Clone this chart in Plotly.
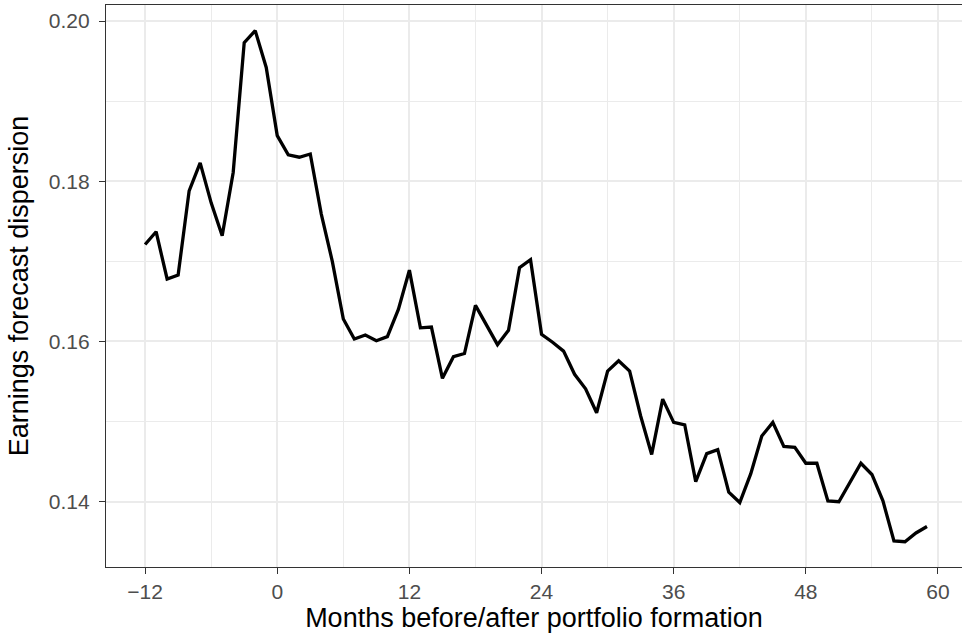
import plotly.graph_objects as go

months = list(range(-12, 60))
dispersion = [
    0.1721, 0.1737, 0.1678, 0.1683, 0.1788, 0.1823, 0.1773, 0.1732, 0.1811, 0.1973,
    0.1988, 0.1942, 0.1857, 0.1833, 0.1830, 0.1834, 0.1759, 0.1700, 0.1628, 0.1603,
    0.1608, 0.1601, 0.1606, 0.1640, 0.1689, 0.1617, 0.1618, 0.1554, 0.1581, 0.1585,
    0.1645, 0.1621, 0.1596, 0.1614, 0.1692, 0.1702, 0.1609, 0.1599, 0.1588, 0.1559,
    0.1541, 0.1511, 0.1563, 0.1576, 0.1563, 0.1507, 0.1459, 0.1528, 0.1499, 0.1496,
    0.1425, 0.1460, 0.1465, 0.1412, 0.1399, 0.1435, 0.1482, 0.1499, 0.1469, 0.1468,
    0.1448, 0.1448, 0.1401, 0.1400, 0.1424, 0.1448, 0.1434, 0.1401, 0.1351, 0.1350,
    0.1361, 0.1369,
]
x_ticks = [-12, 0, 12, 24, 36, 48, 60]
x_ticktext = ["\u221212", "0", "12", "24", "36", "48", "60"]
y_ticks = [0.14, 0.16, 0.18, 0.20]
y_ticktext = ["0.14", "0.16", "0.18", "0.20"]

fig = go.Figure()
fig.add_trace(go.Scatter(x=months, y=dispersion, mode="lines",
                         line=dict(color="black", width=3.3), hoverinfo="skip"))

font_family = "Liberation Sans, Arial, Helvetica, sans-serif"
grid = "#EBEBEB"
fig.update_layout(
    width=962, height=636,
    margin=dict(l=106, r=0, t=5, b=69),
    plot_bgcolor="white", paper_bgcolor="white",
    showlegend=False,
    font=dict(family=font_family, color="black"),
)
fig.update_xaxes(
    range=[-15.55, 62.18],
    tickmode="array", tickvals=x_ticks, ticktext=x_ticktext,
    tickfont=dict(size=21, color="#4D4D4D"),
    ticks="outside", ticklen=6, tickwidth=1.4, tickcolor="#333333",
    ticklabelstandoff=0,
    showgrid=True, gridcolor=grid, gridwidth=1.6,
    minor=dict(tickvals=[-6, 6, 18, 30, 42, 54], showgrid=True, gridcolor=grid, gridwidth=0.8, ticks=""),
    showline=True, linecolor="#333333", linewidth=1.4, mirror=True,
    zeroline=False,
    title=dict(text="Months before/after portfolio formation", font=dict(size=27, color="black"), standoff=0),
)
fig.update_yaxes(
    range=[0.13185, 0.2020],
    tickmode="array", tickvals=y_ticks, ticktext=y_ticktext,
    tickfont=dict(size=21, color="#4D4D4D"),
    ticks="outside", ticklen=6, tickwidth=1.4, tickcolor="#333333",
    ticklabelstandoff=5,
    showgrid=True, gridcolor=grid, gridwidth=1.6,
    minor=dict(tickvals=[0.15, 0.17, 0.19], showgrid=True, gridcolor=grid, gridwidth=0.8, ticks=""),
    showline=True, linecolor="#333333", linewidth=1.4, mirror=False,
    zeroline=False,
    title=dict(text="Earnings forecast dispersion", font=dict(size=27, color="black"), standoff=12),
)

fig.write_html(
    "out.html",
    config={"displayModeBar": False},
    post_script="document.body.style.margin='0';document.body.style.overflow='hidden';",
)
